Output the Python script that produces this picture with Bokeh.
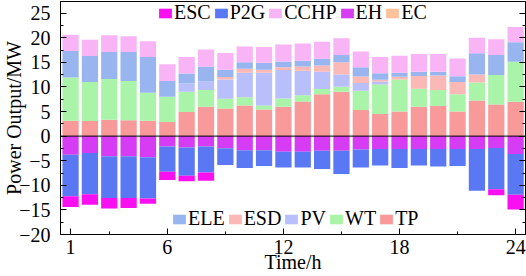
from bokeh.plotting import figure
from bokeh.models import (Range1d, LinearAxis, FixedTicker, Span, Legend, LegendItem,
                          ColumnDataSource)
from bokeh.embed import file_html
from bokeh.resources import INLINE

hours = list(range(1, 25))

# positive side (MW)
TP = [3.1, 3.05, 3.3, 3.2, 3.1, 2.85, 4.9, 5.95, 5.6, 6.2, 5.4, 5.95,
      7.05, 8.5, 9.0, 5.3, 4.5, 5.0, 5.95, 6.1, 5.0, 7.25, 6.4, 7.0]
WT = [8.8, 7.95, 8.3, 8.0, 5.7, 5.15, 4.1, 3.4, 2.0, 1.7, 0.8, 1.7,
      1.25, 1.1, 1.05, 3.9, 6.0, 6.5, 3.7, 3.25, 3.5, 3.65, 6.0, 8.1]
PV = [0, 0, 0, 0, 0, 0, 1.7, 1.75, 3.9, 5.0, 6.7, 5.8,
      5.0, 3.5, 2.45, 1.6, 0.6, 0, 0, 0, 0, 0, 0, 0]
ESD = [0, 0, 0, 0, 0, 0, 0, 0, 0.5, 0.8, 0.6, 0.55,
       0.85, 1.25, 2.5, 1.3, 0.35, 0.55, 2.55, 2.95, 2.5, 1.6, 0, 0]
ELE = [5.4, 5.3, 5.5, 5.9, 7.3, 3.2, 2.0, 3.0, 1.5, 1.3, 1.4, 1.15,
       1.15, 1.35, 1.5, 1.9, 1.35, 0.85, 0.9, 0.8, 1.15, 4.35, 4.1, 4.0]
EC = [0] * 24
CCHP = [3.3, 3.3, 3.4, 3.2, 3.2, 3.4, 3.4, 3.5, 3.4, 3.2, 3.2, 3.45,
        3.5, 3.5, 3.4, 3.2, 3.3, 3.45, 3.6, 3.6, 3.6, 3.15, 3.2, 3.1]

# negative side (MW)
EH = [-3.8, -3.45, -4.1, -4.1, -4.3, -2.1, -2.3, -2.1, -2.45, -2.85, -2.85, -3.2,
      -3.2, -3.0, -3.0, -2.7, -2.6, -2.6, -2.6, -2.6, -2.6, -2.6, -2.4, -3.65]
P2G = [-8.4, -8.35, -8.5, -8.5, -8.4, -5.15, -5.75, -5.3, -3.4, -3.65, -3.25, -3.2,
       -3.2, -3.7, -4.7, -3.7, -3.4, -3.9, -3.4, -3.6, -3.5, -8.5, -8.4, -8.25]
ESC = [-2.2, -2.15, -2.1, -2.0, -1.05, -1.65, -1.15, -1.7, 0, 0, 0, 0,
       0, 0, 0, 0, 0, 0, 0, 0, 0, 0, -1.2, -3.0]

x_ticks = [1, 6, 12, 18, 24]
x_minor = [3, 9, 15, 21]
y_ticks = [-20, -15, -10, -5, 0, 5, 10, 15, 20, 25]
y_tick_labels = ["\u221220", "\u221215", "\u221210", "\u22125", "0", "5", "10", "15", "20", "25"]
y_minor = [-17.5, -12.5, -7.5, -2.5, 2.5, 7.5, 12.5, 17.5, 22.5, 27.5]

colors = {
    "TP": "#F89A99", "WT": "#A9F4A8", "PV": "#B8BFFA", "ESD": "#FAB8B6",
    "ELE": "#98B5F0", "EC": "#FDC29C", "CCHP": "#F8B4F5",
    "EH": "#D53CF4", "P2G": "#5B78F4", "ESC": "#F90FF0",
}

src = ColumnDataSource(dict(hour=hours, TP=TP, WT=WT, PV=PV, ESD=ESD, ELE=ELE, EC=EC,
                            CCHP=CCHP, EH=EH, P2G=P2G, ESC=ESC))

FONT = "Liberation Serif"

p = figure(width=526, height=276, x_range=Range1d(0.48, 24.51), y_range=Range1d(-20, 27.36),
           output_backend="svg", toolbar_location=None,
           min_border_left=56, min_border_right=1, min_border_top=1, min_border_bottom=42)
p.grid.visible = False
p.outline_line_color = "black"
p.outline_line_width = 1
p.outline_line_alpha = 1
p.background_fill_color = "white"
p.border_fill_color = "white"

pos_names = ["TP", "WT", "PV", "ESD", "ELE", "EC", "CCHP"]
neg_names = ["EH", "P2G", "ESC"]
rp = p.vbar_stack(pos_names, x="hour", width=0.84, source=src,
                  fill_color=[colors[n] for n in pos_names], line_color=None)
rn = p.vbar_stack(neg_names, x="hour", width=0.84, source=src,
                  fill_color=[colors[n] for n in neg_names], line_color=None)
R = dict(zip(pos_names, rp))
R.update(dict(zip(neg_names, rn)))

p.add_layout(Span(location=0, dimension="width", line_color="black", line_width=1))

def style_axis(ax):
    ax.axis_line_color = "black"
    ax.major_tick_line_color = "black"
    ax.minor_tick_line_color = "black"
    ax.major_tick_in = 6
    ax.major_tick_out = 0
    ax.minor_tick_in = 3
    ax.minor_tick_out = 0
    ax.major_label_text_font = FONT
    ax.major_label_text_font_size = "20px"
    ax.major_label_text_color = "black"
    ax.axis_label_text_font = FONT
    ax.axis_label_text_font_size = "20px"
    ax.axis_label_text_font_style = "normal"
    ax.axis_label_text_color = "black"

xa = p.xaxis[0]
xa.ticker = FixedTicker(ticks=x_ticks, minor_ticks=x_minor)
style_axis(xa)
xa.major_label_standoff = 5
xa.axis_label = "Time/h"
xa.axis_label_standoff = -6
xa.axis_label_text_baseline = "middle"

ya = p.yaxis[0]
ya.ticker = FixedTicker(ticks=y_ticks, minor_ticks=y_minor)
style_axis(ya)
ya.major_label_standoff = 10
ya.major_label_overrides = {t: l for t, l in zip(y_ticks, y_tick_labels)}
ya.axis_label = "Power Output/MW"
ya.axis_label_standoff = -9

ra = LinearAxis(ticker=FixedTicker(ticks=y_ticks, minor_ticks=y_minor))
style_axis(ra)
ra.major_label_overrides = {t: "" for t in y_ticks}
ra.major_label_text_font_size = "0px"
ra.major_label_standoff = 0
p.add_layout(ra, "right")

def make_legend(names, loc):
    leg = Legend(items=[LegendItem(label=n, renderers=[R[n]]) for n in names],
                 orientation="horizontal", location=loc, padding=0, margin=0, spacing=2,
                 label_standoff=1, glyph_width=16, glyph_height=12,
                 border_line_color=None, background_fill_alpha=0,
                 label_text_font=FONT, label_text_font_size="20px", label_text_color="black")
    return leg

p.add_layout(make_legend(["ESC", "P2G", "CCHP", "EH", "EC"], (97, 210)))
p.add_layout(make_legend(["ELE", "ESD", "PV", "WT", "TP"], (111, 4)))

open("out.html", "w").write(file_html(p, INLINE))
